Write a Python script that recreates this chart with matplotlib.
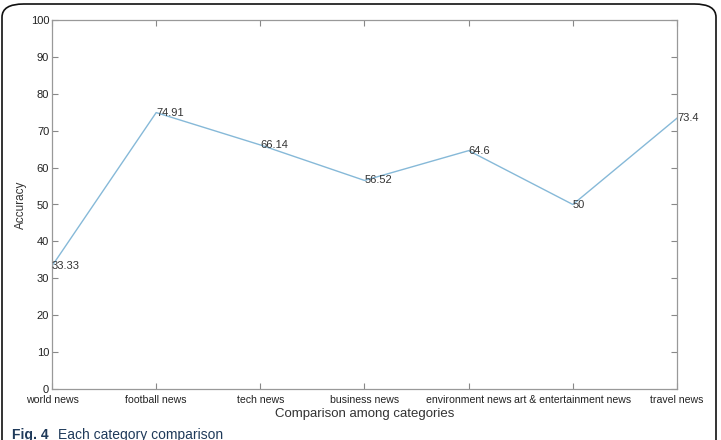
import matplotlib
matplotlib.use("Agg")
import matplotlib.pyplot as plt
from matplotlib.patches import FancyBboxPatch

categories = ["world news", "football news", "tech news", "business news",
              "environment news", "art & entertainment news", "travel news"]
accuracy = [33.33, 74.91, 66.14, 56.52, 64.6, 50, 73.4]
labels = ["33.33", "74.91", "66.14", "56.52", "64.6", "50", "73.4"]
yticks = list(range(0, 101, 10))

plt.rcParams['font.family'] = ['Liberation Sans', 'DejaVu Sans']
W, H = 721, 440
fig = plt.figure(figsize=(W / 100, H / 100), dpi=100)

# outer rounded frame (bottom cut off)
frame = FancyBboxPatch((2 / W, -0.2), (716 - 2) / W, (H - 4) / H + 0.2,
                       boxstyle="round,pad=0,rounding_size=0.03",
                       transform=fig.transFigure, fill=False,
                       edgecolor="#111111", linewidth=1.2, clip_on=False)
fig.patches.append(frame)

ax = fig.add_axes([52 / W, (H - 389) / H, (677 - 52) / W, (389 - 20) / H])
x = list(range(len(categories)))
ax.plot(x, accuracy, color="#86b9d8", linewidth=1.0)
for xi, yi, t in zip(x, accuracy, labels):
    ax.text(xi, yi, t, ha="left", va="center", fontsize=8, color="#333333")

ax.set_xlim(0, len(categories) - 1)
ax.set_ylim(0, 100)
ax.set_xticks(x)
ax.set_xticklabels(categories)
ax.set_yticks(yticks)
ax.tick_params(direction="in", length=4, width=0.8, colors="#888888",
               labelcolor="#222222", labelsize=8, top=True, right=True)
ax.tick_params(axis="x", pad=4.5, labelsize=7.6)
ax.tick_params(axis="y", pad=2)
for s in ax.spines.values():
    s.set_color("#999999")
    s.set_linewidth(0.9)
ax.set_xlabel("Comparison among categories", fontsize=9.5, color="#333333", labelpad=2)
ax.set_ylabel("Accuracy", fontsize=8.5, color="#333333", labelpad=3)

fig.text(12 / W, 1 - 428 / H, "Fig. 4", fontsize=10, fontweight="bold",
         color="#1f3a5a", va="top", ha="left")
fig.text(58 / W, 1 - 428 / H, "Each category comparison", fontsize=10,
         color="#1f3a5a", va="top", ha="left")

fig.savefig("out.png", dpi=100)
